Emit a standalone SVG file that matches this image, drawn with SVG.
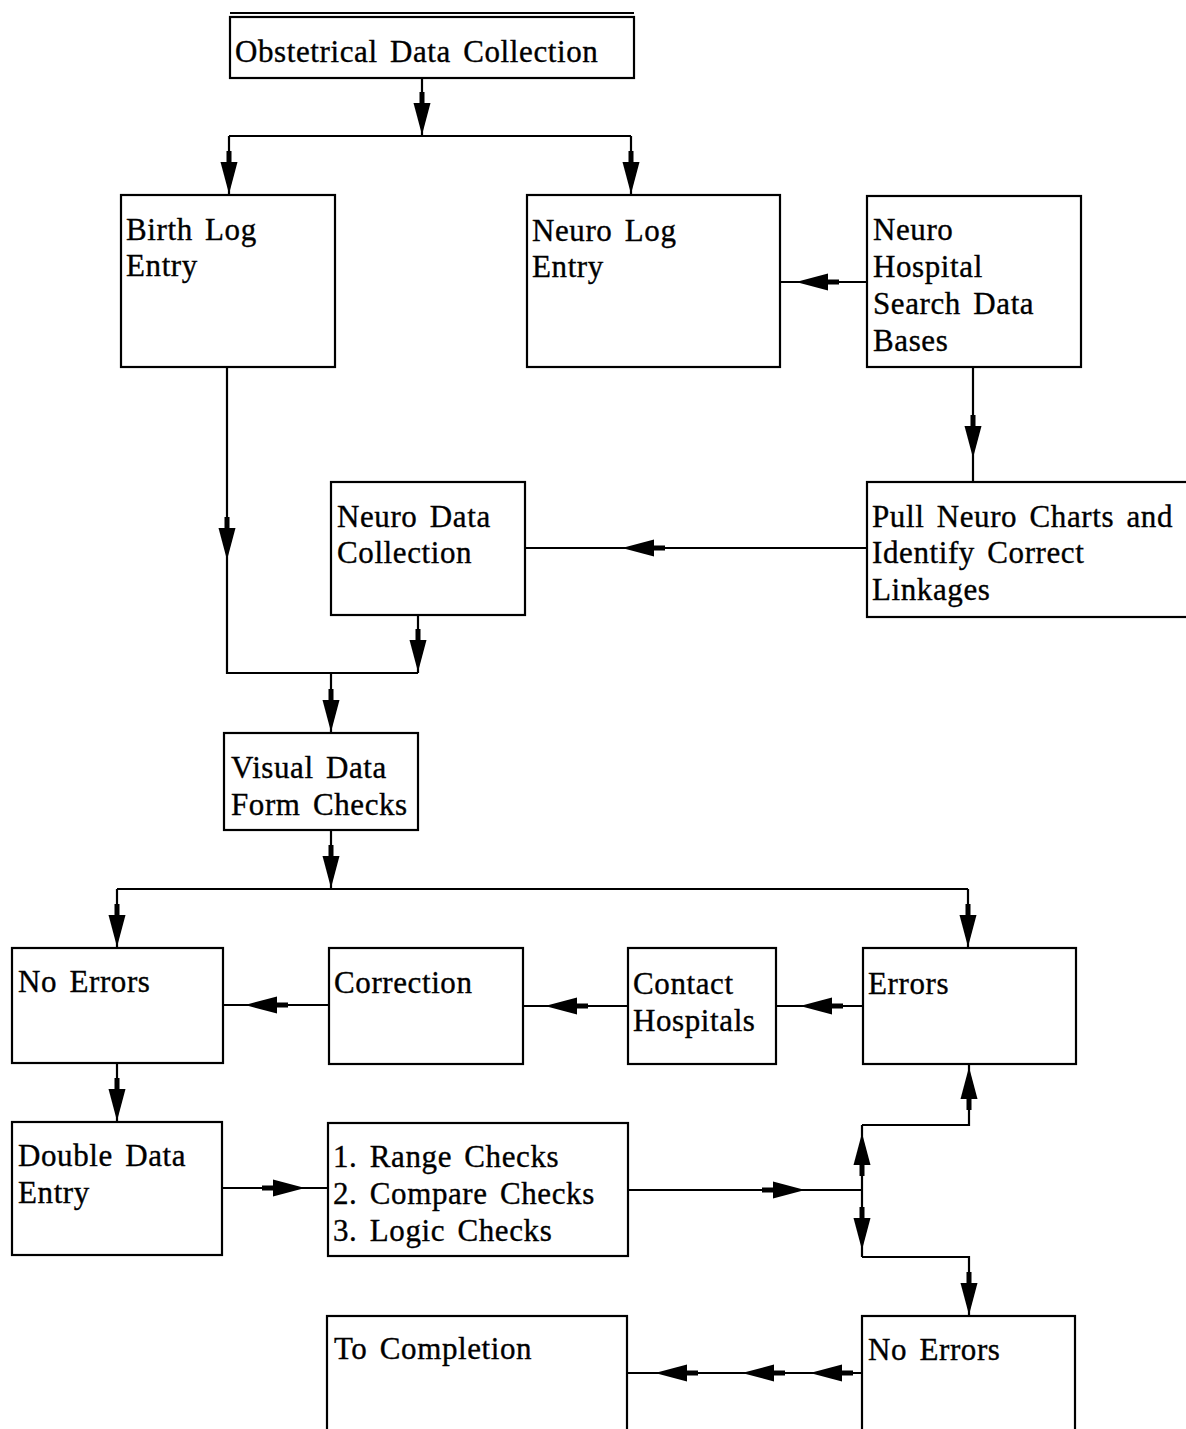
<svg xmlns="http://www.w3.org/2000/svg" xmlns:xlink="http://www.w3.org/1999/xlink" width="1186" height="1429" viewBox="0 0 1186 1429">
  <style>
    .box { fill: #fff; stroke: #000; stroke-width: 2.2; }
    .lbl { font-family: "Liberation Serif", "Times New Roman", serif; font-size: 31px; fill: #000; stroke: #000; stroke-width: 0.35; letter-spacing: 0.6px; word-spacing: 4px; }
    .wire { fill: none; stroke: #000; stroke-width: 2.2; }
  </style>
  <defs>
    <!-- arrowhead pointing down, tip at the origin -->
    <g id="ah">
      <path d="M0,0 L-8.5,-32 L8.5,-32 Z" fill="#000"/>
      <rect x="-2.5" y="-43" width="5" height="12" fill="#000"/>
    </g>
  </defs>
  <rect width="1186" height="1429" fill="#fff"/>

  <!-- connectors -->
  <g id="connectors">
    <path class="wire" d="M422,78 V136 M229,136 H631 M229,136 V195 M631,136 V195"/>
    <use xlink:href="#ah" transform="translate(422,135)"/>
    <use xlink:href="#ah" transform="translate(229,194)"/>
    <use xlink:href="#ah" transform="translate(631,194)"/>

    <path class="wire" d="M867,282 H780"/>
    <use xlink:href="#ah" transform="translate(796,282) rotate(90)"/>

    <path class="wire" d="M973,367 V482"/>
    <use xlink:href="#ah" transform="translate(973,458)"/>

    <path class="wire" d="M867,548 H525"/>
    <use xlink:href="#ah" transform="translate(622,548) rotate(90)"/>

    <path class="wire" d="M227,367 V673 H418 M418,615 V673 M331,673 V733"/>
    <use xlink:href="#ah" transform="translate(227,560)"/>
    <use xlink:href="#ah" transform="translate(418,672)"/>
    <use xlink:href="#ah" transform="translate(331,732)"/>

    <path class="wire" d="M331,830 V889 M117,889 H968 M117,889 V948 M968,889 V948"/>
    <use xlink:href="#ah" transform="translate(331,888)"/>
    <use xlink:href="#ah" transform="translate(117,947)"/>
    <use xlink:href="#ah" transform="translate(968,947)"/>

    <path class="wire" d="M863,1006 H776 M628,1006 H523 M329,1005 H223"/>
    <use xlink:href="#ah" transform="translate(800,1006) rotate(90)"/>
    <use xlink:href="#ah" transform="translate(545,1006) rotate(90)"/>
    <use xlink:href="#ah" transform="translate(245,1005) rotate(90)"/>

    <path class="wire" d="M117,1063 V1122"/>
    <use xlink:href="#ah" transform="translate(117,1121)"/>

    <path class="wire" d="M222,1188 H328"/>
    <use xlink:href="#ah" transform="translate(305,1188) rotate(-90)"/>

    <path class="wire" d="M628,1190 H862 M862,1125 V1257 M862,1125 H969 V1064 M862,1257 H969 V1316"/>
    <use xlink:href="#ah" transform="translate(805,1190) rotate(-90)"/>
    <use xlink:href="#ah" transform="translate(969,1067) rotate(180)"/>
    <use xlink:href="#ah" transform="translate(862,1133) rotate(180)"/>
    <use xlink:href="#ah" transform="translate(862,1250)"/>
    <use xlink:href="#ah" transform="translate(969,1315)"/>

    <path class="wire" d="M862,1373 H627"/>
    <use xlink:href="#ah" transform="translate(655,1373) rotate(90)"/>
    <use xlink:href="#ah" transform="translate(742,1373) rotate(90)"/>
    <use xlink:href="#ah" transform="translate(810,1373) rotate(90)"/>
  </g>

  <!-- nodes -->
  <g id="obstetrical">
    <rect class="box" x="230" y="17" width="404" height="61"/>
    <line x1="230" y1="13" x2="634" y2="13" stroke="#000" stroke-width="2.2"/>
    <text class="lbl" x="235" y="62">Obstetrical Data Collection</text>
  </g>
  <g id="birth-log">
    <rect class="box" x="121" y="195" width="214" height="172"/>
    <text class="lbl" x="126" y="240">Birth Log</text>
    <text class="lbl" x="126" y="276">Entry</text>
  </g>
  <g id="neuro-log">
    <rect class="box" x="527" y="195" width="253" height="172"/>
    <text class="lbl" x="532" y="241">Neuro Log</text>
    <text class="lbl" x="532" y="277">Entry</text>
  </g>
  <g id="neuro-hospital">
    <rect class="box" x="867" y="196" width="214" height="171"/>
    <text class="lbl" x="873" y="240">Neuro</text>
    <text class="lbl" x="873" y="277">Hospital</text>
    <text class="lbl" x="873" y="314">Search Data</text>
    <text class="lbl" x="873" y="351">Bases</text>
  </g>
  <g id="pull-charts">
    <rect class="box" x="867" y="482" width="340" height="135"/>
    <text class="lbl" x="872" y="527">Pull Neuro Charts and</text>
    <text class="lbl" x="872" y="563">Identify Correct</text>
    <text class="lbl" x="872" y="600">Linkages</text>
  </g>
  <g id="neuro-data">
    <rect class="box" x="331" y="482" width="194" height="133"/>
    <text class="lbl" x="337" y="527">Neuro Data</text>
    <text class="lbl" x="337" y="563">Collection</text>
  </g>
  <g id="visual-checks">
    <rect class="box" x="224" y="733" width="194" height="97"/>
    <text class="lbl" x="231" y="778">Visual Data</text>
    <text class="lbl" x="231" y="815">Form Checks</text>
  </g>
  <g id="no-errors-1">
    <rect class="box" x="12" y="948" width="211" height="115"/>
    <text class="lbl" x="18" y="992">No Errors</text>
  </g>
  <g id="correction">
    <rect class="box" x="329" y="948" width="194" height="116"/>
    <text class="lbl" x="334" y="993">Correction</text>
  </g>
  <g id="contact-hospitals">
    <rect class="box" x="628" y="948" width="148" height="116"/>
    <text class="lbl" x="633" y="994">Contact</text>
    <text class="lbl" x="633" y="1031">Hospitals</text>
  </g>
  <g id="errors">
    <rect class="box" x="863" y="948" width="213" height="116"/>
    <text class="lbl" x="868" y="994">Errors</text>
  </g>
  <g id="double-entry">
    <rect class="box" x="12" y="1122" width="210" height="133"/>
    <text class="lbl" x="18" y="1166">Double Data</text>
    <text class="lbl" x="18" y="1203">Entry</text>
  </g>
  <g id="checks">
    <rect class="box" x="328" y="1123" width="300" height="133"/>
    <text class="lbl" x="333" y="1167">1. Range Checks</text>
    <text class="lbl" x="333" y="1204">2. Compare Checks</text>
    <text class="lbl" x="333" y="1241">3. Logic Checks</text>
  </g>
  <g id="no-errors-2">
    <rect class="box" x="862" y="1316" width="213" height="140"/>
    <text class="lbl" x="868" y="1360">No Errors</text>
  </g>
  <g id="completion">
    <rect class="box" x="327" y="1316" width="300" height="140"/>
    <text class="lbl" x="334" y="1359">To Completion</text>
  </g>
</svg>
